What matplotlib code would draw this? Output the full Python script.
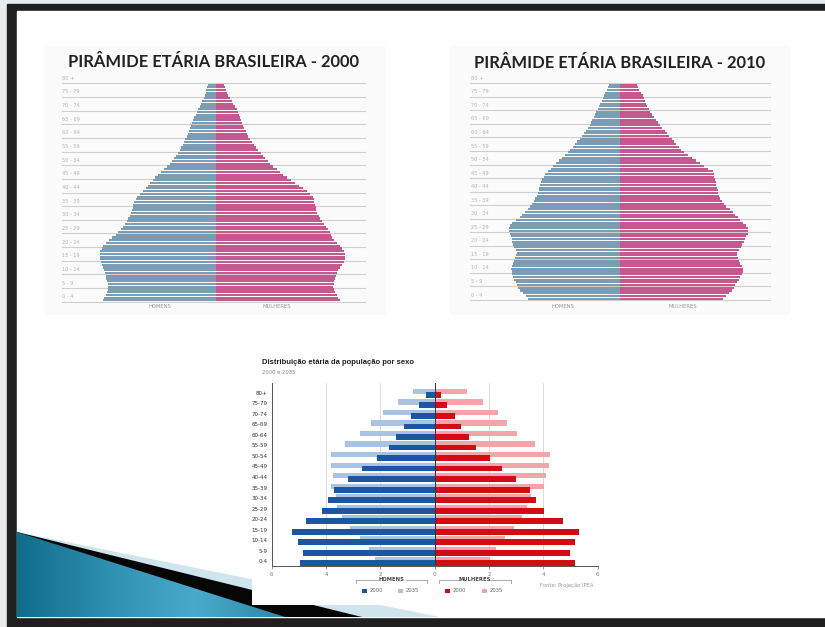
import numpy as np
import matplotlib
matplotlib.use("Agg")
import matplotlib.pyplot as plt
from matplotlib.patches import Rectangle, Polygon
from matplotlib.colors import LinearSegmentedColormap

# ---------------- data ----------------
age_groups = ["0 - 4", "5 - 9", "10 - 14", "15 - 19", "20 - 24", "25 - 29", "30 - 34",
              "35 - 39", "40 - 44", "45 - 49", "50 - 54", "55 - 59", "60 - 64",
              "65 - 69", "70 - 74", "75 - 79", "80 +"]
ages = list(range(80))

# single-year population (relative units)
men_2000 = [337, 334, 330, 326, 323, 322, 323, 325, 328, 330, 332, 335, 338, 342, 345,
            347, 348, 348, 346, 342, 337, 330, 320, 310, 300, 292, 285, 278, 272, 267,
            262, 258, 255, 252, 249, 247, 244, 240, 236, 227, 217, 210, 203, 196, 189,
            182, 173, 164, 155, 146, 137, 131, 125, 119, 113, 107, 103, 99, 95, 91,
            87, 84, 81, 78, 75, 72, 68, 64, 60, 56, 52, 48, 44, 40, 36, 32, 30, 28, 26, 24]
women_2000 = [373, 368, 363, 358, 355, 353, 354, 356, 359, 361, 363, 367, 372, 378, 384,
              388, 389, 389, 385, 379, 373, 363, 355, 350, 346, 343, 337, 331, 325, 319,
              313, 309, 305, 302, 300, 298, 296, 294, 292, 283, 273, 261, 249, 237, 225,
              213, 203, 193, 183, 173, 163, 156, 149, 142, 135, 128, 122, 116, 110, 104,
              98, 94, 90, 86, 82, 78, 75, 72, 69, 66, 63, 58, 53, 48, 43, 38, 35, 32, 29, 26]
men_2010 = [276, 284, 292, 300, 306, 311, 314, 318, 321, 324, 326, 327, 326, 323, 318,
            315, 312, 311, 314, 319, 322, 324, 326, 329, 332, 333, 333, 331, 324, 314,
            302, 294, 286, 278, 270, 264, 260, 255, 251, 247, 245, 243, 240, 237, 234,
            230, 225, 218, 208, 201, 192, 183, 174, 165, 158, 150, 143, 136, 129, 122,
            116, 110, 104, 98, 92, 88, 84, 80, 76, 72, 68, 64, 60, 56, 52, 49, 45, 41, 37, 34]
women_2010 = [309, 318, 327, 335, 340, 344, 350, 355, 360, 364, 367, 367, 365, 360, 356,
              353, 351, 351, 356, 362, 366, 370, 374, 378, 382, 384, 382, 376, 368, 360,
              352, 344, 337, 328, 318, 310, 305, 300, 297, 294, 292, 290, 288, 286, 284,
              282, 280, 278, 264, 250, 238, 226, 214, 202, 190, 182, 175, 168, 161, 154,
              147, 140, 133, 126, 119, 113, 107, 101, 95, 89, 85, 81, 77, 73, 70, 67, 62, 57, 53, 49]

# bottom chart (% of population)
groups_b = ["0-4", "5-9", "10-14", "15-19", "20-24", "25-29", "30-34", "35-39", "40-44",
            "45-49", "50-54", "55-59", "60-64", "65-69", "70-74", "75-79", "80+"]
men_2000_b = [4.97, 4.85, 5.03, 5.26, 4.75, 4.16, 3.91, 3.70, 3.19, 2.66, 2.14, 1.70,
              1.43, 1.14, 0.87, 0.57, 0.32]
men_2035_b = [2.19, 2.41, 2.74, 3.11, 3.40, 3.58, 3.62, 3.83, 3.76, 3.83, 3.83, 3.31,
              2.74, 2.35, 1.92, 1.34, 0.81]
women_2000_b = [5.15, 4.99, 5.18, 5.31, 4.72, 4.02, 3.74, 3.49, 3.00, 2.48, 2.02, 1.53,
                1.25, 0.95, 0.73, 0.46, 0.23]
women_2035_b = [2.04, 2.26, 2.57, 2.92, 3.22, 3.39, 3.55, 4.01, 4.11, 4.19, 4.23, 3.71,
                3.03, 2.66, 2.32, 1.77, 1.18]
ticks_b = [-6, -4, -2, 0, 2, 4, 6]
tick_labels_b = ["6", "4", "2", "0", "2", "4", "6"]

# ---------------- figure ----------------
W, H, DPI = 825, 627, 100
fig = plt.figure(figsize=(W / DPI, H / DPI), dpi=DPI)
bg = fig.add_axes([0, 0, 1, 1])
bg.set_xlim(0, W)
bg.set_ylim(H, 0)
bg.axis("off")


def box(x0, y0, x1, y1):
    return [x0 / W, 1 - y1 / H, (x1 - x0) / W, (y1 - y0) / H]


bg.add_patch(Rectangle((0, 0), W, H, color="#e8ecee", zorder=0))
bg.add_patch(Rectangle((7, 4), W - 7, H - 4, color="#1f1f1f", zorder=1))
bg.add_patch(Rectangle((17, 11), W - 17, 606, color="white", zorder=2))
bg.add_patch(Rectangle((45, 46), 341, 269, color="#fbfbfb", zorder=2.5, lw=0))
bg.add_patch(Rectangle((450, 46), 340, 269, color="#fbfbfb", zorder=2.5, lw=0))

# slide decoration
bg.add_patch(Polygon([(17, 532), (440, 617), (17, 617)], closed=True, color="#cfe5ee", lw=0, zorder=3))
bg.add_patch(Polygon([(17, 532), (362, 617), (17, 617)], closed=True, color="#050505", lw=0, zorder=4))
teal = Polygon([(17, 532), (285, 617), (17, 617)], closed=True, facecolor="none", lw=0, zorder=5)
bg.add_patch(teal)
cmap = LinearSegmentedColormap.from_list("t", ["#0f6c8a", "#2f8fb1", "#4aaacb", "#2a88a8"])
grad = np.linspace(0, 1, 256).reshape(1, -1)
im = bg.imshow(grad, cmap=cmap, extent=(17, 285, 617, 532), aspect="auto", zorder=5)
im.set_clip_path(teal)
bg.set_xlim(0, W)
bg.set_ylim(H, 0)

# white area behind lower chart
bg.add_patch(Rectangle((252, 352), 355, 253, color="white", zorder=6, lw=0))


# ---------------- pyramids ----------------
def pyramid(rect, men, women, xlim, title, tx, ty, hx, mx):
    ax = fig.add_axes(box(*rect))
    ax.set_xlim(*xlim)
    ax.set_ylim(0, 80)
    ax.axis("off")
    ax.patch.set_alpha(0)
    for g in range(17):
        ax.axhline(5 * g, color="#cfcfcf", lw=0.8, zorder=0, clip_on=False)
    y = np.array(ages) + 0.5
    ax.barh(y, -np.array(men), height=0.8, color="#7b9cb3", lw=0, zorder=2)
    ax.barh(y, np.array(women), height=0.8, color="#c7578f", lw=0, zorder=2)
    for g, lab in enumerate(age_groups):
        ax.text(xlim[0] + 2, 5 * g + 0.9, lab, fontsize=3.6, color="#b3b3b3",
                va="bottom", ha="left")
    bg.text(tx, ty, title, fontsize=11.9, fontweight="bold", family="Lato",
            color="#222222", ha="center", va="center", zorder=10)
    bg.text(hx, 307, "HOMENS", fontsize=3.8, color="#9a9a9a", ha="center", va="center", zorder=10)
    bg.text(mx, 307, "MULHERES", fontsize=3.8, color="#9a9a9a", ha="center", va="center", zorder=10)


pyramid((61.7, 83.3, 365, 301.7), men_2000, women_2000, (-462, 448),
        "PIRÂMIDE ETÁRIA BRASILEIRA - 2000", 213.5, 62, 160, 277)
pyramid((470, 83.3, 770, 300), men_2010, women_2010, (-451, 449),
        "PIRÂMIDE ETÁRIA BRASILEIRA - 2010", 620, 63, 563, 683)

# ---------------- lower chart ----------------
axb = fig.add_axes(box(271.7, 383, 597.7, 566))
axb.patch.set_alpha(0)
axb.set_xlim(-6, 6)
axb.set_ylim(-0.45, 16.92)
k = np.arange(len(groups_b))
c_dark_b, c_light_b = "#1b56a3", "#a9c4e3"
c_red, c_pink = "#d40b14", "#f3a6aa"
axb.barh(k + 0.12, -np.array(men_2035_b), height=0.5, color=c_light_b, lw=0, zorder=2)
axb.barh(k - 0.2, -np.array(men_2000_b), height=0.55, color=c_dark_b, lw=0, zorder=3)
axb.barh(k + 0.12, np.array(women_2035_b), height=0.5, color=c_pink, lw=0, zorder=2)
axb.barh(k - 0.2, np.array(women_2000_b), height=0.55, color=c_red, lw=0, zorder=3)
for v in [-4, -2, 2, 4]:
    axb.axvline(v, color="#dcdcdc", lw=0.7, zorder=0)
axb.axvline(0, color="#333333", lw=0.7, zorder=4)
for s in ["top", "right"]:
    axb.spines[s].set_visible(False)
for s in ["left", "bottom"]:
    axb.spines[s].set_color("#555555")
    axb.spines[s].set_linewidth(0.7)
axb.set_xticks(ticks_b)
axb.set_xticklabels(tick_labels_b, fontsize=4, color="#777777")
axb.set_yticks(k)
axb.set_yticklabels(groups_b, fontsize=4, color="#333333")
axb.tick_params(axis="x", length=2, width=0.5, color="#777777", pad=2)
axb.tick_params(axis="y", length=0, pad=3)

bg.text(262, 363, "Distribuição etária da população por sexo", fontsize=5.5,
        fontweight="bold", family="Liberation Sans", color="#222222", va="center", zorder=10)
bg.text(262, 372, "2000 e 2035", fontsize=3.8, color="#888888", va="center", zorder=10)

# legend
for (x0, x1, xc, lab) in [(356, 426.7, 391.5, "HOMENS"), (439.3, 510.7, 475, "MULHERES")]:
    bg.plot([x0, x0, xc - 14], [583, 580, 580], color="#888888", lw=0.5, zorder=10)
    bg.plot([xc + 14, x1, x1], [580, 580, 583], color="#888888", lw=0.5, zorder=10)
    bg.text(xc, 579.5, lab, fontsize=3.8, fontweight="bold", color="#444444",
            ha="center", va="center", zorder=11)
for (xs, col, lab) in [(361.7, c_dark_b, "2000"), (398.3, c_light_b, "2035"),
                       (445, c_red, "2000"), (481.7, c_pink, "2035")]:
    bg.add_patch(Rectangle((xs, 588.7), 5, 4.6, color=col, lw=0, zorder=10))
    bg.text(xs + 7.5, 591, lab, fontsize=3.8, color="#666666", va="center", zorder=10)
bg.text(540, 585.5, "Fonte: Projeção IPEA", fontsize=3.8, color="#999999", va="center", zorder=10)

fig.savefig("out.png", dpi=DPI)
